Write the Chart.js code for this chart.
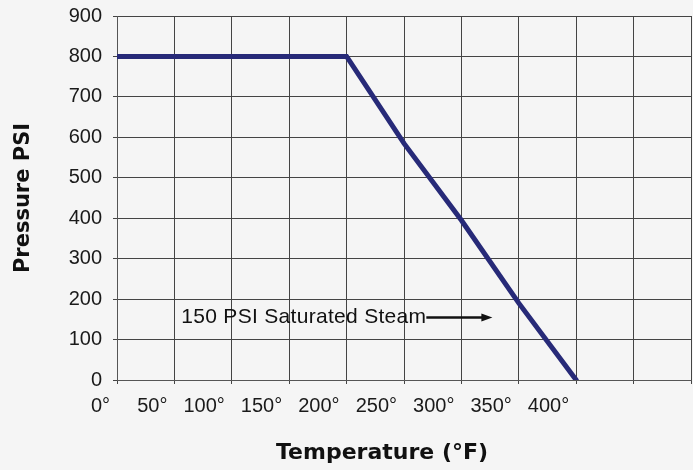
<!DOCTYPE html>
<html>
<head>
<meta charset="utf-8">
<script src="https://cdn.jsdelivr.net/npm/chart.js@4/dist/chart.umd.min.js"></script>
<style>
  html, body { margin: 0; padding: 0; background: #f5f5f5; }
</style>
</head>
<body>
<canvas id="pressureChart" width="693" height="470"></canvas>
<script>
// data
let temperatures = [0, 50, 100, 150, 200, 250, 300, 350, 400];
let pressures = [800, 800, 800, 800, 800, 585, 395, 190, 0];

let xTicks = [0, 50, 100, 150, 200, 250, 300, 350, 400, 450, 500];
let xLabels = ['0°', '50°', '100°', '150°', '200°', '250°', '300°', '350°', '400°', '', ''];
let yTicks = [0, 100, 200, 300, 400, 500, 600, 700, 800, 900];

let xTitle = 'Temperature (°F)';
let yTitle = 'Pressure PSI';
let noteText = '150 PSI Saturated Steam';

// note + arrow, and the x title which sits left of centre in the original
let chartNotes = {
    id: 'chartNotes',
    afterDraw(chart) {
        let {ctx, chartArea, scales} = chart;
        let x = scales.x, y = scales.y;
        ctx.save();
        ctx.fillStyle = '#111';
        ctx.textBaseline = 'middle';

        ctx.font = 'bold 22px "DejaVu Sans"';
        ctx.textAlign = 'center';
        ctx.fillText(xTitle, chartArea.left + 265, 453);

        ctx.font = '21px "Liberation Sans"';
        ctx.letterSpacing = '0.3px';
        ctx.textAlign = 'left';
        let tx = x.getPixelForValue(56);
        let ty = Math.round(y.getPixelForValue(155)) + 0.5;
        ctx.fillText(noteText, tx, ty);

        let a0 = tx + ctx.measureText(noteText).width;
        let a1 = x.getPixelForValue(327);
        ctx.strokeStyle = '#111';
        ctx.lineWidth = 2.5;
        ctx.beginPath();
        ctx.moveTo(a0, ty);
        ctx.lineTo(a1 - 8, ty);
        ctx.stroke();
        ctx.beginPath();
        ctx.moveTo(a1, ty);
        ctx.lineTo(a1 - 11, ty - 4);
        ctx.lineTo(a1 - 11, ty + 4);
        ctx.closePath();
        ctx.fill();
        ctx.restore();
    }
};

let pressureChart = document.getElementById('pressureChart').getContext('2d');

let new_pressure_chart = new Chart(pressureChart, {
    type: 'line',
    data: {
        datasets: [{
            data: temperatures.map((t, i) => ({x: t, y: pressures[i]})),
            borderColor: '#272a78',
            borderWidth: 5,
            borderCapStyle: 'round',
            pointRadius: 0,
            tension: 0,
            fill: false,
        }],
    },
    options: {
        responsive: false,
        animation: false,
        layout: {
            padding: {top: 16, right: 2, left: 0, bottom: 0}
        },
        plugins: {
            legend: { display: false },
            tooltip: { enabled: false }
        },
        scales: {
            x: {
                type: 'linear',
                min: 0,
                max: 500,
                afterBuildTicks: (scale) => { scale.ticks = xTicks.map(v => ({value: v})); },
                afterFit: (scale) => {
                    scale.height = 90;
                    scale.paddingLeft = 0;
                    scale.paddingRight = 0;
                },
                grid: { color: '#444', lineWidth: 1, tickLength: 4 },
                border: { color: '#555', width: 1 },
                ticks: {
                    color: '#1a1a1a',
                    font: { family: '"Liberation Sans"', size: 20 },
                    align: 'end',
                    labelOffset: -7,
                    padding: 10,
                    maxRotation: 0,
                    autoSkip: false,
                    callback: (v, i) => xLabels[i],
                }
            },
            y: {
                min: 0,
                max: 900,
                afterBuildTicks: (scale) => { scale.ticks = yTicks.map(v => ({value: v})); },
                afterFit: (scale) => {
                    scale.width = 117;
                    scale.paddingTop = 0;
                    scale.paddingBottom = 0;
                },
                grid: { color: '#444', lineWidth: 1, tickLength: 4 },
                border: { color: '#555', width: 1 },
                ticks: {
                    color: '#1a1a1a',
                    font: { family: '"Liberation Sans"', size: 20 },
                    padding: 11,
                },
                title: {
                    display: true,
                    text: yTitle,
                    color: '#111',
                    font: { family: '"DejaVu Sans"', size: 21, weight: 'bold' },
                    padding: { top: 11, bottom: 0 },
                }
            }
        }
    },
    plugins: [chartNotes]
});
</script>
</body>
</html>
